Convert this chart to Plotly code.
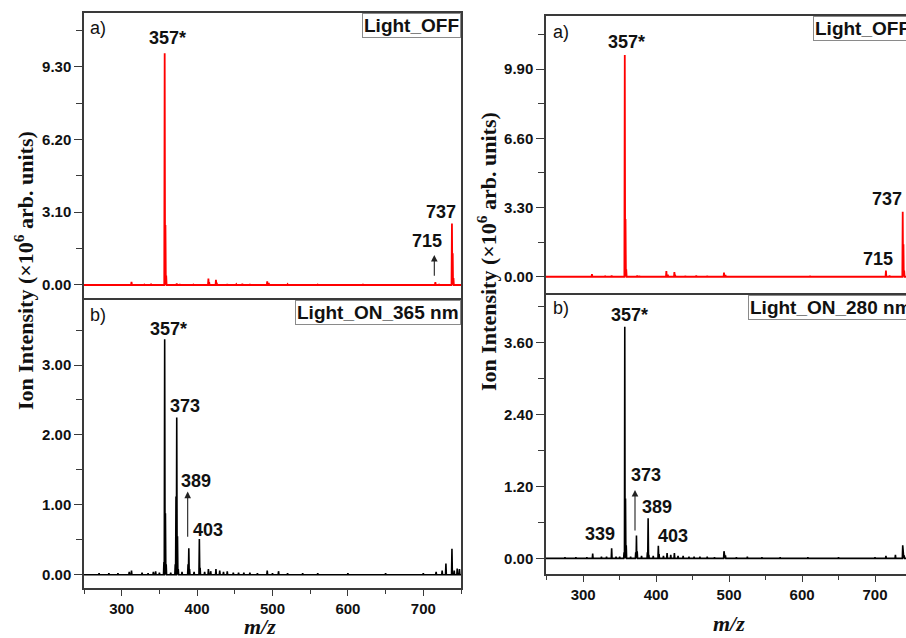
import plotly.graph_objects as go

# ---------------- data (peak lists) ----------------
# Left column, a) Light_OFF (red)
L_off_mz = [282, 300, 313, 330, 339, 357, 358, 359, 373, 377, 395, 415, 416, 425, 426, 440, 452, 460, 470, 493, 495, 520, 560, 620, 716, 721, 738, 739, 740]
L_off_int = [0.02, 0.02, 0.13, 0.02, 0.05, 9.87, 2.56, 0.40, 0.06, 0.04, 0.02, 0.27, 0.12, 0.22, 0.10, 0.04, 0.03, 0.05, 0.04, 0.15, 0.09, 0.03, 0.02, 0.02, 0.12, 0.04, 2.62, 1.35, 0.30]

# Left column, b) Light_ON_365 nm (black)
L_on_mz = [270, 283, 295, 310, 313, 327, 335, 342, 345, 350, 356, 357, 358, 359, 365, 371, 372, 373, 374, 375, 380, 388, 389, 390, 396, 403, 404, 410, 415, 418, 425, 430, 435, 440, 448, 455, 462, 470, 480, 493, 500, 508, 520, 540, 560, 600, 650, 700, 717, 725, 730, 738, 741, 745, 748]
L_on_int = [0.02, 0.02, 0.02, 0.04, 0.06, 0.03, 0.02, 0.04, 0.05, 0.03, 0.18, 3.37, 0.88, 0.15, 0.03, 0.15, 1.12, 2.25, 0.55, 0.08, 0.04, 0.15, 0.38, 0.08, 0.04, 0.51, 0.10, 0.04, 0.08, 0.05, 0.08, 0.06, 0.04, 0.05, 0.03, 0.03, 0.03, 0.03, 0.02, 0.06, 0.02, 0.05, 0.02, 0.02, 0.02, 0.02, 0.02, 0.02, 0.04, 0.06, 0.16, 0.37, 0.06, 0.09, 0.08]

# Right column, a) Light_OFF (red)
R_off_mz = [290, 312, 330, 339, 357, 358, 359, 374, 377, 414, 416, 425, 426, 440, 455, 470, 493, 495, 611, 715, 720, 738, 739, 740]
R_off_int = [0.02, 0.13, 0.02, 0.06, 10.57, 2.75, 0.35, 0.06, 0.04, 0.27, 0.10, 0.22, 0.08, 0.04, 0.05, 0.04, 0.20, 0.08, 0.04, 0.30, 0.05, 3.10, 1.55, 0.30]

# Right column, b) Light_ON_280 nm (black)
R_on_mz = [275, 290, 305, 313, 325, 332, 339, 345, 350, 356, 357, 358, 359, 365, 372, 373, 374, 380, 388, 389, 390, 396, 403, 404, 410, 415, 420, 425, 430, 437, 445, 452, 460, 470, 480, 493, 495, 510, 525, 545, 570, 608, 650, 700, 715, 728, 738, 740]
R_on_int = [0.02, 0.02, 0.02, 0.08, 0.03, 0.03, 0.17, 0.03, 0.03, 0.10, 3.86, 1.00, 0.22, 0.03, 0.10, 0.38, 0.12, 0.04, 0.10, 0.67, 0.06, 0.04, 0.21, 0.07, 0.04, 0.09, 0.06, 0.09, 0.04, 0.04, 0.03, 0.03, 0.03, 0.03, 0.02, 0.12, 0.05, 0.02, 0.03, 0.02, 0.02, 0.02, 0.02, 0.02, 0.04, 0.06, 0.22, 0.05]

X_TICKS = [300, 400, 500, 600, 700]


def stick_profile(mz, inten, lo, hi, half=0.55):
    xs, ys = [lo], [0.0]
    for m, h in sorted(zip(mz, inten)):
        xs += [m - half, m, m + half]
        ys += [0.0, h, 0.0]
    xs.append(hi)
    ys.append(0.0)
    return xs, ys


W, H = 906, 638
def px(x):
    return x / W
def py(y):
    return 1 - y / H

fig = go.Figure()

panels = [
    (L_on_mz, L_on_int, "#000000", 1.6, "x", "y", (250, 750)),
    (L_off_mz, L_off_int, "#ff0000", 1.8, "x2", "y2", (250, 750)),
    (R_on_mz, R_on_int, "#000000", 1.6, "x3", "y3", (249, 742.5)),
    (R_off_mz, R_off_int, "#ff0000", 1.8, "x4", "y4", (249, 742.5)),
]
for mz, it, col, lw, xa, ya, xr in panels:
    xs, ys = stick_profile(mz, it, xr[0], xr[1])
    fig.add_trace(go.Scatter(x=xs, y=ys, mode="lines", line=dict(color=col, width=lw),
                             xaxis=xa, yaxis=ya, showlegend=False, hoverinfo="skip"))

FRAME = "#3a3a3a"
tickfont = dict(family="Liberation Sans, Arial", size=15, color="#111", weight="bold")

def xax(domain, rng, anchor, labels):
    d = dict(domain=domain, range=list(rng), anchor=anchor, showline=True, linecolor=FRAME,
             linewidth=1.5, showgrid=False, zeroline=False, tickfont=tickfont)
    if labels:
        d.update(mirror=True, tickmode="array", tickvals=X_TICKS, ticks="outside", ticklen=6,
                 tickwidth=1.2, tickcolor=FRAME,
                 minor=dict(ticks="outside", dtick=50, tick0=250, ticklen=4,
                            tickcolor=FRAME, tickwidth=1))
    else:
        # upper panels: only the top frame line; the divider comes from the lower panel
        d.update(side="top", mirror=False, showticklabels=False, ticks="")
    return d

def yax(domain, rng, anchor, dtick, mirror=True):
    return dict(domain=domain, range=list(rng), anchor=anchor, showline=True, linecolor=FRAME,
                linewidth=1.5, mirror=mirror, showgrid=False, zeroline=False, tickfont=tickfont,
                tick0=0, dtick=dtick, tickformat=".2f", ticks="outside", ticklen=8, tickwidth=1.2,
                tickcolor=FRAME,
                minor=dict(ticks="outside", dtick=dtick / 2, tick0=0, ticklen=6, tickcolor=FRAME,
                           tickwidth=1))

LX = [px(84), px(461)]
RX = [px(546), 1.0]
fig.update_layout(
    width=W, height=H, margin=dict(l=0, r=0, t=0, b=0),
    paper_bgcolor="white", plot_bgcolor="white",
    xaxis=xax(LX, (250, 750), "y", True),
    yaxis=yax([py(588), py(300)], (-0.19, 3.93), "x", 1.0),
    xaxis2=xax(LX, (250, 750), "y2", False),
    yaxis2=yax([py(300), py(13)], (-0.64, 11.59), "x2", 3.1),
    xaxis3=xax(RX, (249, 742.5), "y3", True),
    yaxis3=yax([py(574), py(295)], (-0.26, 4.39), "x3", 1.2, mirror=False),
    xaxis4=xax(RX, (249, 742.5), "y4", False),
    yaxis4=yax([py(295), py(15.7)], (-0.87, 12.44), "x4", 3.3, mirror=False),
)

ann = []
lab = dict(family="Liberation Sans, Arial", size=18, color="#111", weight="bold")
small = dict(family="Liberation Sans, Arial", size=18, color="#111")

def label(text, x, y, xr, yr, font=lab, xanchor="center"):
    ann.append(dict(text=text, x=x, y=y, xref=xr, yref=yr, showarrow=False, font=font,
                    xanchor=xanchor, yanchor="middle"))

def arrow(x, y_head, y_tail, xr, yr):
    ann.append(dict(text="", x=x, y=y_head, ax=x, ay=y_tail, xref=xr, yref=yr, axref=xr, ayref=yr,
                    showarrow=True, arrowhead=2, arrowsize=1.2, arrowwidth=1.1, arrowcolor="#222",
                    standoff=0, startstandoff=0))

def box(text, x, y, xanchor):
    ann.append(dict(text=text, x=x, y=y, xref="paper", yref="paper", showarrow=False,
                    font=dict(family="Liberation Sans, Arial", size=19, color="#111", weight="bold"),
                    xanchor=xanchor, yanchor="top", bordercolor="#8a8a8a", borderwidth=1,
                    borderpad=1, bgcolor="white"))

# left top
label("a)", 255.3, 10.95, "x2", "y2", small, "left")
label("357*", 361, 10.52, "x2", "y2")
label("737", 723, 3.11, "x2", "y2")
label("715", 704.5, 1.87, "x2", "y2")
arrow(714.6, 1.28, 0.33, "x2", "y2")
box("Light_OFF", px(461), py(13), "right")
# left bottom
label("b)", 255.3, 3.71, "x", "y", small, "left")
label("357*", 361.8, 3.51, "x", "y")
label("373", 384.4, 2.41, "x", "y")
label("389", 398.1, 1.34, "x", "y")
label("403", 414.9, 0.64, "x", "y")
arrow(387.5, 1.19, 0.52, "x", "y")
box("Light_ON_365 nm", px(461), py(300), "right")
# right top
label("a)", 255.9, 11.66, "x4", "y4", small, "left")
label("357*", 359.6, 11.17, "x4", "y4")
label("737", 716, 3.69, "x4", "y4")
label("715", 704, 0.83, "x4", "y4")
box("Light_OFF", px(813.3), py(15.7), "left")
# right bottom
label("b)", 255.9, 4.17, "x3", "y3", small, "left")
label("357*", 362.8, 4.06, "x3", "y3")
label("373", 386, 1.39, "x3", "y3")
label("389", 400.7, 0.86, "x3", "y3")
label("339", 323, 0.40, "x3", "y3")
label("403", 422.7, 0.38, "x3", "y3")
arrow(371, 1.14, 0.44, "x3", "y3")
box("Light_ON_280 nm", px(748.3), py(295), "left")

# axis titles
ytitle = "Ion Intensity (×10<sup>6</sup> arb. units)"
tfont = dict(family="Liberation Serif, Times New Roman", size=22, color="#111", weight="bold")
ann.append(dict(text=ytitle, x=px(24), y=py(271), xref="paper", yref="paper", showarrow=False,
                textangle=-90, font=tfont, xanchor="center", yanchor="middle"))
ann.append(dict(text=ytitle, x=px(487), y=py(252), xref="paper", yref="paper", showarrow=False,
                textangle=-90, font=tfont, xanchor="center", yanchor="middle"))
mfont = dict(family="Liberation Serif, Times New Roman", size=22, color="#111", weight="bold", style="italic")
ann.append(dict(text="m/z", x=px(260), y=py(626), xref="paper", yref="paper", showarrow=False,
                font=mfont, xanchor="center", yanchor="middle"))
ann.append(dict(text="m/z", x=px(729), y=py(623), xref="paper", yref="paper", showarrow=False,
                font=mfont, xanchor="center", yanchor="middle"))

fig.update_layout(annotations=ann)
fig.write_html("out.html", config={"displayModeBar": False},
               post_script="document.body.style.margin='0';document.body.style.overflow='hidden';")
